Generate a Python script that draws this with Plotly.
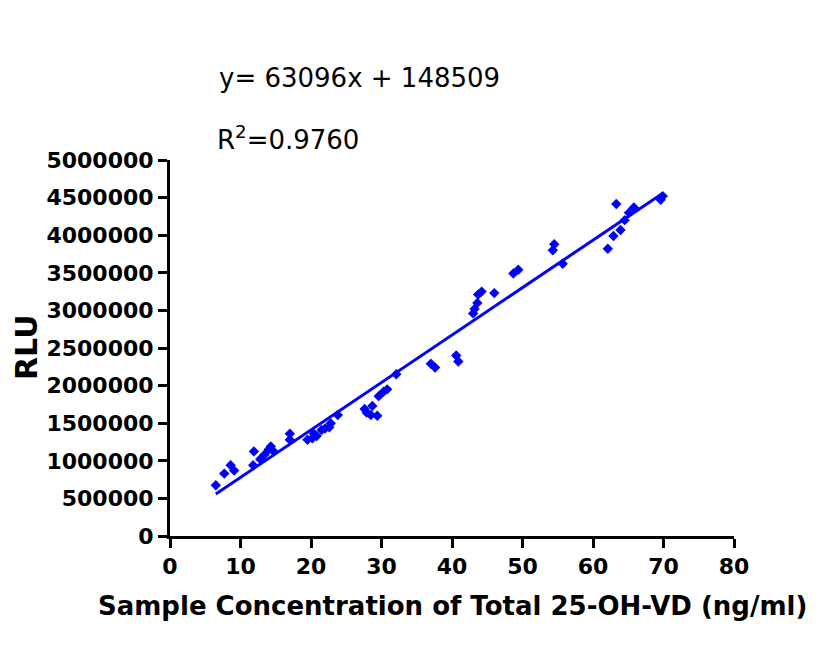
import plotly.graph_objects as go

# Sample concentration (ng/ml) and RLU
conc = [6.5, 7.7, 8.6, 9.1, 11.9, 11.8, 12.8, 13.4, 14.0, 14.3, 14.7, 17.0, 17.0,
        19.5, 20.2, 20.4, 20.8, 21.5, 22.0, 22.6, 22.8, 23.8, 27.6, 27.9, 28.5,
        28.7, 29.4, 29.6, 30.3, 30.8, 32.1, 37.0, 37.6, 40.6, 40.9, 43.0, 43.2,
        43.6, 43.7, 44.2, 46.0, 48.7, 49.4, 54.3, 54.5, 55.7, 62.1, 62.9, 63.3,
        63.9, 64.5, 65.1, 65.8, 69.6, 69.9]
rlu = [675000, 830000, 940000, 870000, 1125000, 940000, 1020000, 1080000, 1150000,
       1190000, 1125000, 1360000, 1280000, 1280000, 1300000, 1360000, 1330000,
       1410000, 1430000, 1445000, 1500000, 1610000, 1690000, 1640000, 1610000,
       1730000, 1600000, 1860000, 1920000, 1950000, 2150000, 2290000, 2240000,
       2400000, 2320000, 2960000, 3020000, 3100000, 3210000, 3250000, 3230000,
       3490000, 3540000, 3800000, 3880000, 3620000, 3820000, 3990000, 4415000,
       4070000, 4200000, 4300000, 4370000, 4470000, 4520000]

slope = 63096
intercept = 148509
r2_text = "0.9760"

x_ticks = [0, 10, 20, 30, 40, 50, 60, 70, 80]
y_ticks = [0, 500000, 1000000, 1500000, 2000000, 2500000, 3000000, 3500000,
           4000000, 4500000, 5000000]

x_title = "Sample Concentration of Total 25-OH-VD (ng/ml)"
y_title = "RLU"

line_x = [min(conc), max(conc)]
line_y = [slope * v + intercept for v in line_x]

blue = "#0000FF"
fig = go.Figure()
fig.add_trace(go.Scatter(x=line_x, y=line_y, mode="lines",
                         line=dict(color=blue, width=3), hoverinfo="skip"))
fig.add_trace(go.Scatter(x=conc, y=rlu, mode="markers",
                         marker=dict(symbol="diamond", size=8, color=blue,
                                     line=dict(width=0))))

tick_font = dict(family="DejaVu Sans", size=22, color="black", weight="bold")

fig.update_layout(
    width=834, height=660,
    margin=dict(l=162, r=108, t=152, b=132),
    paper_bgcolor="white", plot_bgcolor="white",
    showlegend=False,
    xaxis=dict(range=[0, 80], tickvals=x_ticks, ticktext=[str(v) for v in x_ticks],
               showline=True, linecolor="black", linewidth=3,
               ticks="outside", ticklen=9, tickwidth=3, tickcolor="black",
               showgrid=False, zeroline=False, tickfont=tick_font,
               automargin=False),
    yaxis=dict(range=[0, 5000000], tickvals=y_ticks, ticktext=[str(v) for v in y_ticks],
               showline=True, linecolor="black", linewidth=3,
               ticks="outside", ticklen=9, tickwidth=3, tickcolor="black",
               showgrid=False, zeroline=False, tickfont=tick_font,
               automargin=False),
    annotations=[
        dict(xref="paper", yref="paper", x=0.083, y=1.218, xanchor="left",
             yanchor="middle", showarrow=False,
             text=f"y= {slope}x + {intercept}",
             font=dict(family="DejaVu Sans", size=26, color="black")),
        dict(xref="paper", yref="paper", x=0.08, y=1.059, xanchor="left",
             yanchor="middle", showarrow=False,
             text=f"R<sup>2</sup>={r2_text}",
             font=dict(family="DejaVu Sans", size=26, color="black")),
        dict(xref="paper", yref="paper", x=(452 - 170) / 564, y=-(606 - 536) / 376,
             xanchor="center", yanchor="middle", showarrow=False,
             text=x_title,
             font=dict(family="DejaVu Sans", size=26, color="black", weight="bold")),
        dict(xref="paper", yref="paper", x=-(170 - 26) / 564, y=(536 - 347) / 376,
             xanchor="center", yanchor="middle", showarrow=False, textangle=-90,
             text=y_title, borderpad=0,
             font=dict(family="DejaVu Sans", size=30, color="black", weight="bold")),
    ],
)

fig.write_html("out.html")
